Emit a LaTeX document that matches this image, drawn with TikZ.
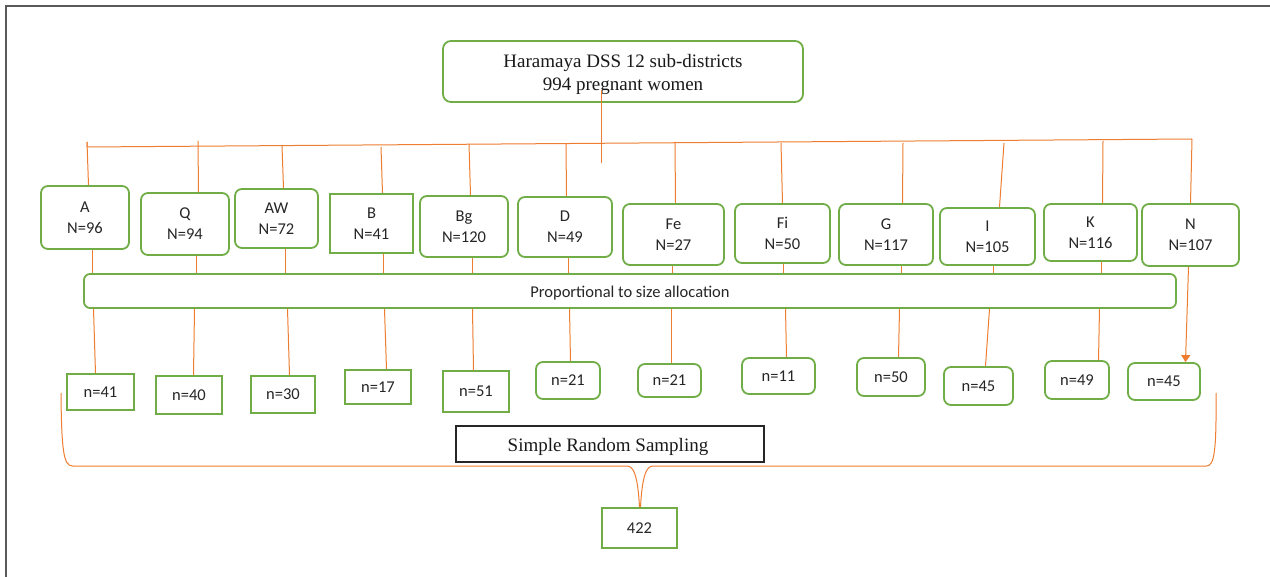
\documentclass[tikz,border=0pt]{standalone}
\usepackage{fontspec}
\setmainfont{Carlito}
\newfontfamily\serifx{Liberation Serif}
\usetikzlibrary{arrows.meta,calc}
\definecolor{gr}{HTML}{70AD47}
\definecolor{org}{HTML}{ED7D31}
\definecolor{txt}{HTML}{262626}
\definecolor{frm}{HTML}{5A5A5A}
\tikzset{
  bx/.style={draw=gr, line width=1.8pt, rounded corners=7pt, align=center, inner sep=0pt,
    font=\fontsize{16.5}{21}\selectfont, text=txt, fill=white},
  sq/.style={bx, rounded corners=0pt},
  conn/.style={draw=org, line width=1pt, shift={(0.5,0)}},
  sertxt/.style={font=\serifx\fontsize{19}{23}\selectfont, text=black!90, align=center, inner sep=0pt},
  santxt/.style={font=\fontsize{16.5}{21}\selectfont, text=txt, inner sep=0pt},
}
\begin{document}
\begin{tikzpicture}[x=1pt,y=-1pt]
\useasboundingbox (0,0) rectangle (1270,577);
% frame (left and top only)
\draw[frm, line width=2pt] (5.5,577) -- (5.5,6.5) -- (1270,6.5);

% top box
\node[bx, rounded corners=8pt, minimum width=360, minimum height=61] (top) at (623,71.5) {};
\node[sertxt] (toptxt) at (623,74) {Haramaya DSS 12 sub-districts\\994 pregnant women};
\coordinate (topin) at (601,90);
\coordinate (topend) at (601,163);
\draw[conn] (topin) -- (topend);

% bar
\coordinate (bl) at (87,147);
\coordinate (br) at (1192,139);
\coordinate (blt) at (87,142);
\draw[conn] (blt) -- (bl) -- (br);

% first row
\node[bx, minimum width=88, minimum height=63] (a1) at (85,217.5) {A\\N=96};
\node[bx, minimum width=88, minimum height=62] (q1) at (185,224) {Q\\N=94};
\node[bx, minimum width=83, minimum height=59] (aw1) at (276.5,218.5) {AW\\N=72};
\node[sq, minimum width=83, minimum height=59] (b1) at (371.5,223.5) {B\\N=41};
\node[bx, minimum width=88, minimum height=61] (bg1) at (464,226.5) {Bg\\N=120};
\node[bx, minimum width=94, minimum height=60] (d1) at (565,227) {D\\N=49};
\node[bx, minimum width=101, minimum height=61] (fe1) at (673.5,234.5) {Fe\\N=27};
\node[bx, minimum width=95, minimum height=59] (fi1) at (782.5,233.5) {Fi\\N=50};
\node[bx, minimum width=94, minimum height=61] (g1) at (886,234.5) {G\\N=117};
\node[bx, minimum width=95, minimum height=57] (i1) at (987.5,236.5) {I\\N=105};
\node[bx, minimum width=93, minimum height=57] (k1) at (1090.5,232.5) {K\\N=116};
\node[bx, minimum width=97, minimum height=62] (n1) at (1190.5,235) {N\\N=107};

% bar drops
\coordinate (ta) at (87,142);   \draw[conn] (ta) -- (a1.north -| 88,0);
\coordinate (tq) at (198,141);  \draw[conn] (tq) -- (q1.north -| 198,0);
\coordinate (taw) at (282,146); \draw[conn] (taw) -- (aw1.north -| 283,0);
\coordinate (tb) at (381,147);  \draw[conn] (tb) -- (b1.north -| 382,0);
\coordinate (tbg) at (469,144); \draw[conn] (tbg) -- (bg1.north -| 470,0);
\coordinate (td) at (566,144);  \draw[conn] (td) -- (d1.north -| 566,0);
\coordinate (tfe) at (675,142); \draw[conn] (tfe) -- (fe1.north -| 675,0);
\coordinate (tfi) at (781,143); \draw[conn] (tfi) -- (fi1.north -| 782,0);
\coordinate (tg) at (903,143);  \draw[conn] (tg) -- (g1.north -| 902,0);
\coordinate (ti) at (1004,143); \draw[conn] (ti) -- (i1.north -| 999,0);
\coordinate (tk) at (1103,141); \draw[conn] (tk) -- (k1.north -| 1102,0);
\draw[conn] (br) -- (n1.north -| 1190,0);

% proportional box
\node[bx, rounded corners=6pt, minimum width=1092, minimum height=34] (prop) at (630,291) {};
\node[santxt] (proptxt) at (630,293) {Proportional to size allocation};

% row1 to prop
\foreach \n/\x in {a1/91.5,q1/196,aw1/285,b1/383,bg1/472,d1/568,fe1/672,fi1/783,g1/901,i1/993,k1/1101}
  \draw[conn] (\n.south -| \x,0) -- (prop.north -| \x,0);

% second row
\node[sq, minimum width=67, minimum height=36] (n41) at (100.5,392) {n=41};
\node[sq, minimum width=66, minimum height=38] (n40) at (189,395) {n=40};
\node[sq, minimum width=64, minimum height=37] (n30) at (283,394.5) {n=30};
\node[sq, minimum width=66, minimum height=34] (n17) at (378,387) {n=17};
\node[sq, minimum width=66, minimum height=41] (n51) at (476,391.5) {n=51};
\node[bx, minimum width=64, minimum height=37] (n21a) at (568,380.5) {n=21};
\node[bx, minimum width=63, minimum height=33] (n21b) at (669.5,380.5) {n=21};
\node[bx, minimum width=73, minimum height=36] (n11) at (778.5,376) {n=11};
\node[bx, minimum width=68, minimum height=38] (n50) at (891,377) {n=50};
\node[bx, minimum width=69, minimum height=38] (n45a) at (978.5,386) {n=45};
\node[bx, minimum width=64, minimum height=38] (n49) at (1077,380) {n=49};
\node[bx, minimum width=72, minimum height=37] (n45b) at (1164,381.5) {n=45};

% prop to row2
\foreach \n/\xa/\xb in {n41/93/95,n40/194/193,n30/287/289,n17/384/386,n51/472/473,n21a/569/570,n21b/671/671,n11/785/786,n50/899/898,n45a/989/985,n49/1099/1098}
  \draw[conn] (prop.south -| \xa,0) -- (\n.north -| \xb,0);

% N arrow
\draw[conn, -{Triangle[length=7pt,width=9pt]}] (n1.south -| 1188,0) -- (n45b.north -| 1185,0);

% simple random sampling
\node[draw=black!85, line width=1.4pt, minimum width=308, minimum height=36, inner sep=0pt] (srs) at (610,444) {};
\node[sertxt] (srstxt) at (608,446.5) {Simple Random Sampling};

% total
\node[sq, minimum width=75, minimum height=40] (tot) at (639.5,528) {422};

% brace
\coordinate (bll) at (61,393);
\coordinate (brr) at (1216,393);
\draw[conn] (bll) .. controls (61,450) and (63,466) .. (72,466) -- (627,466)
  .. controls (636,466) and (638,490) .. (tot.north -| 639,0);
\draw[conn] (brr) .. controls (1216,450) and (1214,466) .. (1206,466) -- (652,466)
  .. controls (643,466) and (641,490) .. (tot.north -| 640,0);
\end{tikzpicture}
\end{document}
